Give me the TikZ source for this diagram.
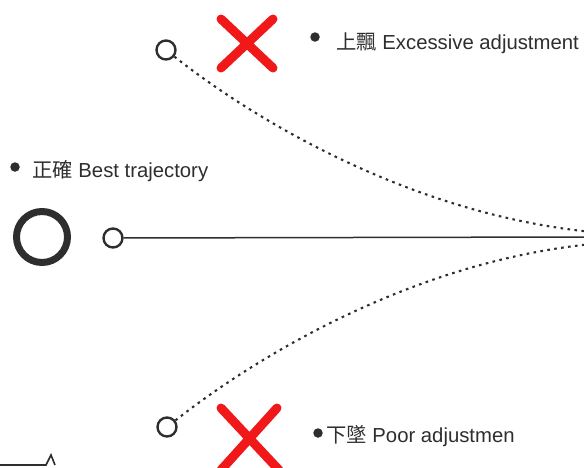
\documentclass[tikz,border=0pt]{standalone}
\usepackage{fontspec}
\setmainfont{Liberation Sans}
\newfontfamily\cjkfont{Noto Sans CJK TC}
\definecolor{ink}{HTML}{2E2E2E}
\definecolor{xred}{HTML}{F01818}
\begin{document}
\begin{tikzpicture}[x=1pt,y=-1pt,
  smallring/.style={circle,draw=ink,line width=2.4pt,minimum size=19pt,inner sep=0pt},
  bigring/.style={circle,draw=ink,line width=7pt,minimum size=51pt,inner sep=0pt},
  dotbullet/.style={circle,fill=ink,minimum size=9.5pt,inner sep=0pt},
  lbl/.style={anchor=base west,inner sep=0pt,text=ink,font=\fontsize{20.3}{23}\selectfont},
  dotpath/.style={draw=ink,line width=2.1pt,dash pattern=on 2.6pt off 4.4pt},
  redx/.style={draw=xred,line width=9pt,line cap=round}]
\useasboundingbox (0,0) rectangle (584,467);
% rings
\node[bigring] (big) at (42,237) {};
\node[smallring] (mid) at (113,238) {};
\node[smallring] (top) at (166,50) {};
\node[smallring] (bot) at (167,427) {};
\coordinate (endM) at (586,237);
\coordinate (endT) at (592,232);
\coordinate (endB) at (592,244);
% connectors
\draw[ink,line width=1.5pt] (mid) -- (endM);
\draw[dotpath] (top) .. controls (265,128) and (420,215) .. (endT);
\draw[dotpath] (bot) .. controls (265,350) and (420,261) .. (endB);
% red crosses
\draw[redx] (221,19) -- (273,68) (273,19) -- (221,68);
\draw[redx] (221,408) -- (279,470) (277,408) -- (221,470);
% labels
\node[dotbullet] (b1) at (315,37) {};
\node[lbl] (t1) at (336,49) {{\cjkfont 上飄} Excessive adjustment};
\node[dotbullet] (b2) at (15,167) {};
\node[lbl] (t2) at (32,177) {{\cjkfont 正確} Best trajectory};
\node[dotbullet] (b3) at (318,433) {};
\node[lbl] (t3) at (326,442) {{\cjkfont 下墜} Poor adjustmen};
% cut-off fragment at bottom left
\draw[ink,line width=1.6pt] (0,465) -- (46,465) -- (51,455) -- (55,465);
\end{tikzpicture}
\end{document}
